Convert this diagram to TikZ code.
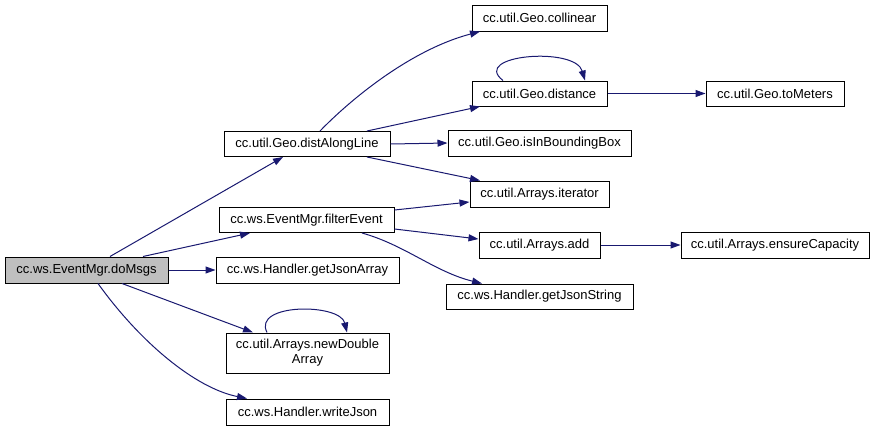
\documentclass[tikz,border=0pt]{standalone}
\usepackage{fontspec}
\setmainfont{Liberation Sans}
\usetikzlibrary{arrows.meta}
\definecolor{edgeblue}{HTML}{191970}
\definecolor{nodegray}{HTML}{BFBFBF}
\begin{document}
\begin{tikzpicture}[x=1pt,y=-1pt,
  box/.style={draw=black, line width=1pt, fill=white, inner sep=0pt,
    font=\fontsize{13}{15}\selectfont, align=center},
  edge/.style={draw=edgeblue, line width=1pt, -{Triangle[length=10pt,width=7pt]}},
]
\useasboundingbox (0,0) rectangle (875,431);

% nodes
\node[box, fill=nodegray, minimum width=163pt, minimum height=26pt] (doMsgs) at (86.5,270) {cc.ws.EventMgr.doMsgs};
\node[box, minimum width=166pt, minimum height=25pt] (dist) at (307,144) {cc.util.Geo.distAlongLine};
\node[box, minimum width=175pt, minimum height=25pt] (filter) at (306.5,220) {cc.ws.EventMgr.filterEvent};
\node[box, minimum width=183pt, minimum height=26pt] (jarr) at (307.5,270) {cc.ws.Handler.getJsonArray};
\node[box, minimum width=163pt, minimum height=40pt] (ndouble) at (307.5,353) {cc.util.Arrays.newDouble\\Array};
\node[box, minimum width=163pt, minimum height=26pt] (wjson) at (307.5,412) {cc.ws.Handler.writeJson};
\node[box, minimum width=135pt, minimum height=26pt] (coll) at (539.5,18) {cc.util.Geo.collinear};
\node[box, minimum width=135pt, minimum height=25pt] (distance) at (539.5,93.5) {cc.util.Geo.distance};
\node[box, minimum width=138pt, minimum height=25pt] (tom) at (775,93.5) {cc.util.Geo.toMeters};
\node[box, minimum width=183pt, minimum height=26pt] (inbb) at (539.5,143) {cc.util.Geo.isInBoundingBox};
\node[box, minimum width=139pt, minimum height=26pt] (iter) at (539.5,194) {cc.util.Arrays.iterator};
\node[box, minimum width=121pt, minimum height=26pt] (add) at (539.5,245) {cc.util.Arrays.add};
\node[box, minimum width=188pt, minimum height=26pt] (ensure) at (775,245) {cc.util.Arrays.ensureCapacity};
\node[box, minimum width=187pt, minimum height=25pt] (jstr) at (539.5,296.5) {cc.ws.Handler.getJsonString};

% edges from doMsgs
\draw[edge] ([xshift=23.5pt]doMsgs.north) -- ([xshift=-24pt]dist.south);
\draw[edge] ([xshift=56.5pt]doMsgs.north) -- ([xshift=-56.5pt]filter.south);
\draw[edge] (doMsgs.east) -- (jarr.west);
\draw[edge] ([xshift=35.5pt]doMsgs.south) -- ([xshift=-54.5pt]ndouble.north);
\draw[edge] ([xshift=11.5pt]doMsgs.south) .. controls (140,342) and (195,388) .. ([xshift=-60.5pt]wjson.north);
\draw[edge] ([xshift=-40.5pt]ndouble.north) .. controls (252,303) and (340,303) .. ([xshift=39.5pt]ndouble.north);

% edges from distAlongLine
\draw[edge] ([xshift=13pt]dist.north) .. controls (350,100) and (410,50) .. ([xshift=-59.5pt]coll.south);
\draw[edge] ([xshift=60pt]dist.north) -- ([xshift=-59.5pt]distance.south);
\draw[edge] (dist.east) -- (inbb.west);
\draw[edge] ([xshift=60pt]dist.south) -- ([xshift=-59.5pt]iter.north);

% edges from filterEvent
\draw[edge] ([yshift=10pt]filter.east) -- ([yshift=-8pt]iter.west);
\draw[edge] ([yshift=-9pt]filter.east) -- ([yshift=6pt]add.west);
\draw[edge] ([xshift=55.5pt]filter.south) .. controls (405,245) and (435,272) .. ([xshift=-57.5pt]jstr.north);

% distance
\draw[edge] (distance.east) -- (tom.west);
\draw[edge] ([xshift=-36.5pt]distance.north) .. controls (470,55) and (575,46) .. ([xshift=45.5pt]distance.north);

% add
\draw[edge] (add.east) -- (ensure.west);
\end{tikzpicture}
\end{document}
